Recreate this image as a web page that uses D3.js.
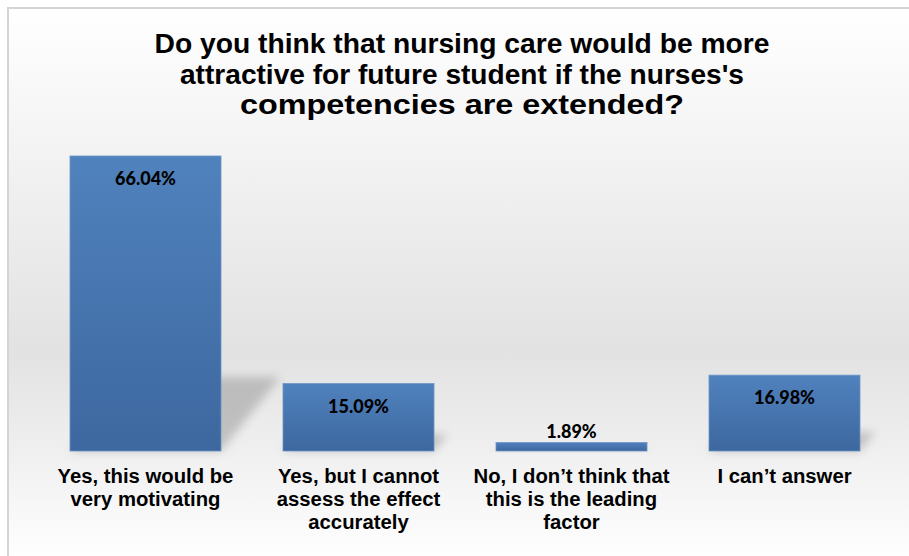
<!DOCTYPE html>
<html lang="en">
<head>
<meta charset="UTF-8">
<title>Nursing competencies survey</title>
<style>
html, body { margin: 0; padding: 0; background: #fff; }
svg { display: block; }
.title { font-family: 'Liberation Sans', Arial, sans-serif; font-weight: bold; font-size: 28.5px; fill: #000; }
.cat { font-family: 'Liberation Sans', Arial, sans-serif; font-weight: bold; font-size: 20.3px; fill: #000; }
.val { font-family: Lato, 'Open Sans', sans-serif; font-weight: 900; font-size: 18px; fill: #000; }
</style>
</head>
<body>
<svg width="909" height="556"></svg>
<script src="https://cdnjs.cloudflare.com/ajax/libs/d3/7.8.5/d3.min.js"></script>
<script>
// data
const categories = [
  ['Yes, this would be', 'very motivating'],
  ['Yes, but I cannot', 'assess the effect', 'accurately'],
  ['No, I don\u2019t think that', 'this is the leading', 'factor'],
  ['I can\u2019t answer']
];
const values = [66.04, 15.09, 1.89, 16.98];
const valueLabels = ['66.04%', '15.09%', '1.89%', '16.98%'];
const titleLines = [
  'Do you think that nursing care would be more',
  'attractive for future student if the nurses\'s',
  'competencies are extended?'
];

const svg = d3.select('svg');
const W = 909, H = 556;

const defs = svg.append('defs');

var bg = defs.append('linearGradient').attr('id', 'bg')
  .attr('x1', 0).attr('y1', 0).attr('x2', 0).attr('y2', 1);
bg.append('stop').attr('offset', '0%').attr('stop-color', '#ffffff');
bg.append('stop').attr('offset', '62%').attr('stop-color', '#e2e2e2');
bg.append('stop').attr('offset', '100%').attr('stop-color', '#ffffff');

var barGrad = defs.append('linearGradient').attr('id', 'barGrad')
  .attr('x1', 0).attr('y1', 0).attr('x2', 0).attr('y2', 1);
barGrad.append('stop').attr('offset', '0%').attr('stop-color', '#5082bd');
barGrad.append('stop').attr('offset', '100%').attr('stop-color', '#3d679f');

defs.append('filter').attr('id', 'blur')
  .attr('x', '-50%').attr('y', '-50%').attr('width', '200%').attr('height', '200%')
  .append('feGaussianBlur').attr('stdDeviation', 5);

// chart area background + border
svg.append('rect')
  .attr('x', 8).attr('y', 8)
  .attr('width', W).attr('height', H)
  .attr('fill', 'url(#bg)')
  .attr('stroke', '#d4d4d4')
  .attr('stroke-width', 2);

var x = d3.scaleBand()
  .domain(d3.range(values.length))
  .range([39, 891])
  .paddingInner(0.291)
  .paddingOuter(0.1455);

var y = d3.scaleLinear().domain([0, 70]).range([451, 138.3]);

// perspective shadows
svg.append('g').selectAll('path')
  .data(values)
  .enter()
  .append('path')
  .attr('d', function (d, i) {
    var x0 = x(i), x1 = x(i) + x.bandwidth();
    var b = y(0), h = y(0) - y(d);
    var dx = 0.2 * h, dy = 0.25 * h;
    return 'M' + x0 + ',' + b + 'L' + x1 + ',' + b +
      'L' + (x1 + dx) + ',' + (b - dy) + 'L' + (x0 + dx) + ',' + (b - dy) + 'Z';
  })
  .attr('fill', '#8a8a8a')
  .attr('opacity', 0.45)
  .attr('filter', 'url(#blur)');

// bars
svg.append('g').selectAll('rect')
  .data(values)
  .enter()
  .append('rect')
  .attr('x', function (d, i) { return x(i); })
  .attr('y', function (d) { return y(d); })
  .attr('width', x.bandwidth())
  .attr('height', function (d) { return y(0) - y(d); })
  .attr('fill', 'url(#barGrad)')
  .attr('stroke', '#6d95c8')
  .attr('stroke-width', 0.8);

// value labels
svg.append('g').selectAll('text')
  .data(values)
  .enter()
  .append('text')
  .attr('class', 'val')
  .attr('text-anchor', 'middle')
  .attr('x', function (d, i) { return x(i) + x.bandwidth() / 2; })
  .attr('y', function (d) {
    var h = y(0) - y(d);
    return h > 35 ? y(d) + 29 : y(d) - 5;
  })
  .text(function (d, i) { return valueLabels[i]; });

// category labels
var cats = svg.append('g').selectAll('text')
  .data(categories)
  .enter()
  .append('text')
  .attr('class', 'cat')
  .attr('text-anchor', 'middle');
cats.selectAll('tspan')
  .data(function (d, i) { return d.map(function (s) { return { s: s, i: i }; }); })
  .enter()
  .append('tspan')
  .attr('x', function (d) { return x(d.i) + x.bandwidth() / 2; })
  .attr('y', function (d, j) { return 482.5 + j * 23; })
  .text(function (d) { return d.s; });

// title
var titleWidths = [615, 564, 444];
svg.append('g').selectAll('text')
  .data(titleLines)
  .enter()
  .append('text')
  .attr('class', 'title')
  .attr('text-anchor', 'middle')
  .attr('x', 462)
  .attr('y', function (d, i) { return 53 + i * 30.5; })
  .attr('textLength', function (d, i) { return titleWidths[i]; })
  .attr('lengthAdjust', 'spacingAndGlyphs')
  .text(function (d) { return d; });
</script>
</body>
</html>
